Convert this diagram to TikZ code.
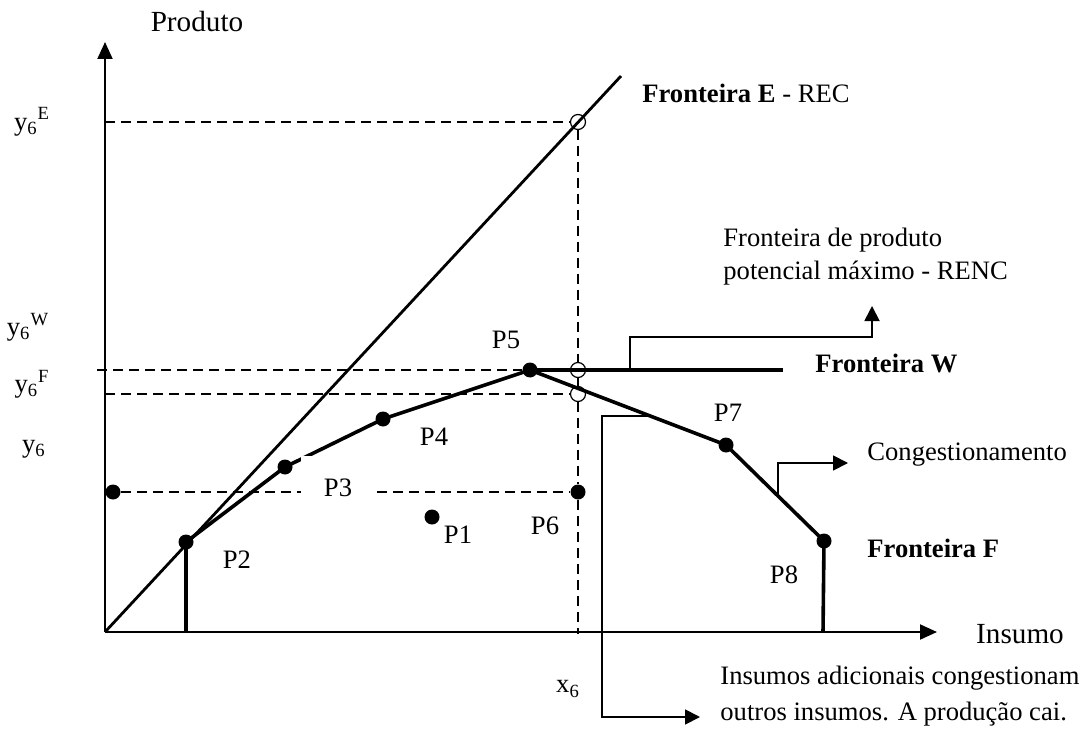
\documentclass[tikz,border=0pt]{standalone}
\usepackage{fontspec}
\setmainfont{Liberation Serif}
\usepackage{tikz}
\usetikzlibrary{arrows.meta}
\usetikzlibrary{positioning}

\begin{document}
\begin{tikzpicture}[x=0.5pt,y=-0.5pt,
    font=\fontsize{13.3pt}{16.5pt}\selectfont,
    axis/.style={line width=1pt,-{Triangle[length=8.5pt,width=7.5pt]}},
    front/.style={line width=1.8pt,line join=round},
    guide/.style={line width=0.8pt,dash pattern=on 5pt off 3pt},
    callout/.style={line width=0.9pt,-{Triangle[length=7.5pt,width=7.5pt]}},
    dot/.style={circle,fill=black,inner sep=0pt,minimum size=7.5pt},
    ring/.style={circle,draw=black,line width=0.6pt,inner sep=0pt,minimum size=7.5pt},
    axlabel/.style={font=\fontsize{14.6pt}{17pt}\selectfont}]
    \useasboundingbox (0,0) rectangle (1090,737);

    % axes
    \coordinate (o) at (105,632);
    \coordinate (ytop) at (105,42);
    \coordinate (xtop) at (937,632);
    \coordinate (etop) at (621,76);

    % observed units
    \node[dot] (p0) at (113,492) {};
    \node[dot] (p1) at (432,517) {};
    \node[dot] (p2) at (186,542) {};
    \node[dot] (p3) at (285,467) {};
    \node[dot] (p4) at (383,419) {};
    \node[dot] (p5) at (530,370) {};
    \node[dot] (p6) at (578,492) {};
    \node[dot] (p7) at (726,445) {};
    \node[dot] (p8) at (824,541) {};

    % projections of P6
    \node[ring] (ce) at (578,122) {};
    \node[ring] (cw) at (578,370) {};
    \node[ring] (cf) at (578,394) {};

    \coordinate (p2b) at (186,632);
    \coordinate (p8b) at (823,632);
    \coordinate (wend) at (783,370);
    \coordinate (x6b) at (578,634);
    \coordinate (ye) at (105,122);
    \coordinate (yw) at (97,370);
    \coordinate (yf) at (105,394);

    \draw[guide] (ye) -- (ce);
    \draw[guide] (yw) -- (p5);
    \draw[guide] (yf) -- (cf);
    \draw[guide] (p0) -- (p6);
    \draw[guide] (ce) -- (cw) -- (cf) -- (p6) -- (x6b);

    \draw[axis] (o) -- (ytop);
    \draw[axis] (o) -- (xtop);
    \draw[line width=1.4pt] (o) -- (etop);
    \draw[front] (p2b) -- (p2.center) -- (p3.center) -- (p4.center) -- (p5.center)
        -- (p7.center) -- (p8.center) -- (p8b);
    \draw[front] (p5.center) -- (wend);

    % callouts
    \coordinate (rencfoot) at (630,370);
    \coordinate (renctip) at (872,306);
    \draw[callout] (rencfoot) -- ++(0,-33) -| (renctip);
    \coordinate (congfoot) at (778,496);
    \coordinate (congtip) at (848,463);
    \draw[callout] (congfoot) |- (congtip);
    \coordinate (insfoot) at (648,416);
    \coordinate (instip) at (700,717);
    \draw[callout] (insfoot) -- ++(-46,0) |- (instip);

    % labels
    \node[axlabel] (produto) at (197,22) {Produto};
    \node[axlabel] (insumo) at (1020,634) {Insumo};
    \node (ly6e) at (32,122) {y\textsubscript{6}\textsuperscript{E}};
    \node (ly6w) at (28,327) {y\textsubscript{6}\textsuperscript{W}};
    \node (ly6f) at (32,384) {y\textsubscript{6}\textsuperscript{F}};
    \node (ly6) at (34,449) {y\textsubscript{6}};
    \node (lx6) at (568,689) {x\textsubscript{6}};

    \node (l1) at (458,535) {P1};
    \node (l2) at (237,560) {P2};
    \node[fill=white,inner sep=0pt,minimum width=37pt,text height=19.9pt,text depth=5pt,anchor=north] (l3) at (338,456) {P3};
    \node (l4) at (434,437) {P4};
    \node (l5) at (506,340) {P5};
    \node (l6) at (545,526) {P6};
    \node (l7) at (728,413) {P7};
    \node (l8) at (784,575) {P8};

    \node[anchor=west,inner sep=0pt] (fe) at (642,93) {\textbf{Fronteira E} - REC};
    \node[anchor=west,inner sep=0pt,align=left] (renc) at (723,257) {Fronteira de produto\\potencial máximo - RENC};
    \node[anchor=west,inner sep=0pt] (fw) at (815,363) {\textbf{Fronteira W}};
    \node[anchor=west,inner sep=0pt] (cong) at (867,455) {Congestionamento};
    \node[anchor=west,inner sep=0pt] (ff) at (867,548) {\textbf{Fronteira F}};
    \node[anchor=west,inner sep=0pt,align=left,font=\fontsize{13.3pt}{18pt}\selectfont] (ins) at (720,696) {Insumos adicionais congestionam\\outros insumos. A produção cai.};
\end{tikzpicture}
\end{document}
